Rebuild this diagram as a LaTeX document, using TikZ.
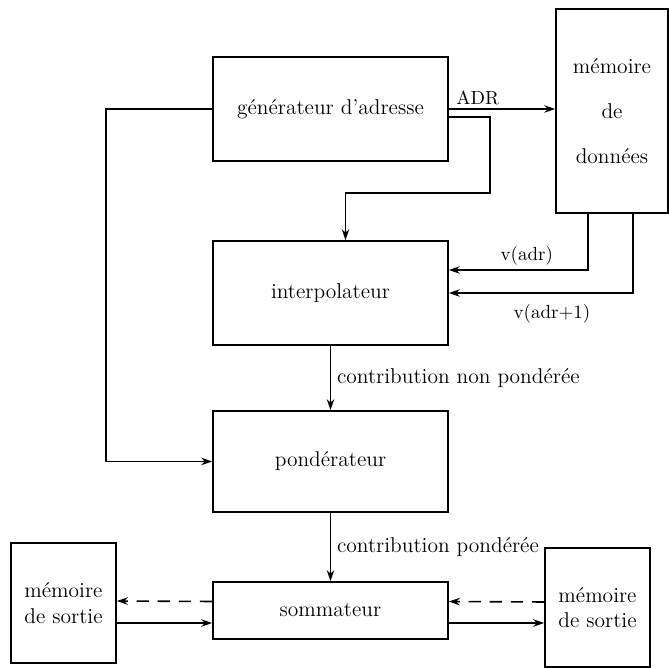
\documentclass[tikz,border=0pt]{standalone}
\usepackage{fontspec}
\usepackage{tikz}
\usetikzlibrary{arrows.meta, positioning, calc}

\begin{document}
\begin{tikzpicture}[
    x=0.02cm, y=-0.02cm,
    unit/.style={draw, line width=1pt, minimum width=4.7cm, inner sep=0pt, font=\fontsize{12.2}{14.5}\selectfont},
    store/.style={draw, line width=1pt, inner sep=0pt, align=center, font=\fontsize{12.2}{14.5}\selectfont},
    sig/.style={line width=0.9pt, -{Stealth[length=2.2mm, width=1.5mm]}},
    back/.style={sig, dash pattern=on 7pt off 5pt},
    tag/.style={font=\fontsize{10.8}{12.5}\selectfont, inner sep=2pt}
]
    \useasboundingbox (0,0) rectangle (669,668);

    % Main chain
    \node[unit, minimum height=2.08cm] (gen) at (330.5,109) {générateur d'adresse};
    \node[unit, minimum height=2.08cm] (interp) at (330.5,293) {interpolateur};
    \node[unit, minimum height=2.02cm] (pond) at (330.5,461.5) {pondérateur};
    \node[unit, minimum height=1.14cm] (som) at (330.5,610.5) {sommateur};

    % Memories
    \node[store, minimum width=2.24cm, minimum height=4.08cm] (datamem) at (612,111) {mémoire\\[11pt]de\\[11pt]données};
    \node[store, minimum width=2.1cm, minimum height=2.4cm] (outmemL) at (63.5,603) {mémoire\\de sortie};
    \node[store, minimum width=2.1cm, minimum height=2.38cm] (outmemR) at (597.5,607.5) {mémoire\\de sortie};

    % Address paths
    \draw[sig] (gen.east) -- node[tag, above, pos=0.03, anchor=south west] {ADR} (gen.east -| datamem.west);
    \draw[sig] ($(gen.east)+(0,8)$) -| (490,193) -| ($(interp.north)+(15,0)$);
    \draw[sig] (gen.west) -- ++(-106,0) |- (pond.west);

    % Data values
    \draw[sig] ($(datamem.south)+(-24,0)$) |- node[tag, above, pos=0.72] {v(adr)} ($(interp.east)+(0,-23)$);
    \draw[sig] ($(datamem.south)+(21,0)$) |- node[tag, below, pos=0.72, yshift=-4pt] {v(adr+1)} (interp.east);

    % Contributions
    \draw[sig] (interp.south) -- node[right, font=\fontsize{12.2}{14.5}\selectfont] {contribution non pondérée} (pond.north);
    \draw[sig] (pond.south) -- node[right, font=\fontsize{12.2}{14.5}\selectfont] {contribution pondérée} (som.north);

    % Output memories
    \draw[back] ($(som.west)+(0,-9)$) -- ($(outmemL.east)+(0,-2)$);
    \draw[sig] ($(outmemL.east)+(0,20)$) -- ($(som.west)+(0,12.5)$);
    \draw[back] ($(outmemR.west)+(0,-5.5)$) -- ($(som.east)+(0,-9)$);
    \draw[sig] ($(som.east)+(0,12.5)$) -- ($(outmemR.west)+(0,15.5)$);
\end{tikzpicture}
\end{document}
